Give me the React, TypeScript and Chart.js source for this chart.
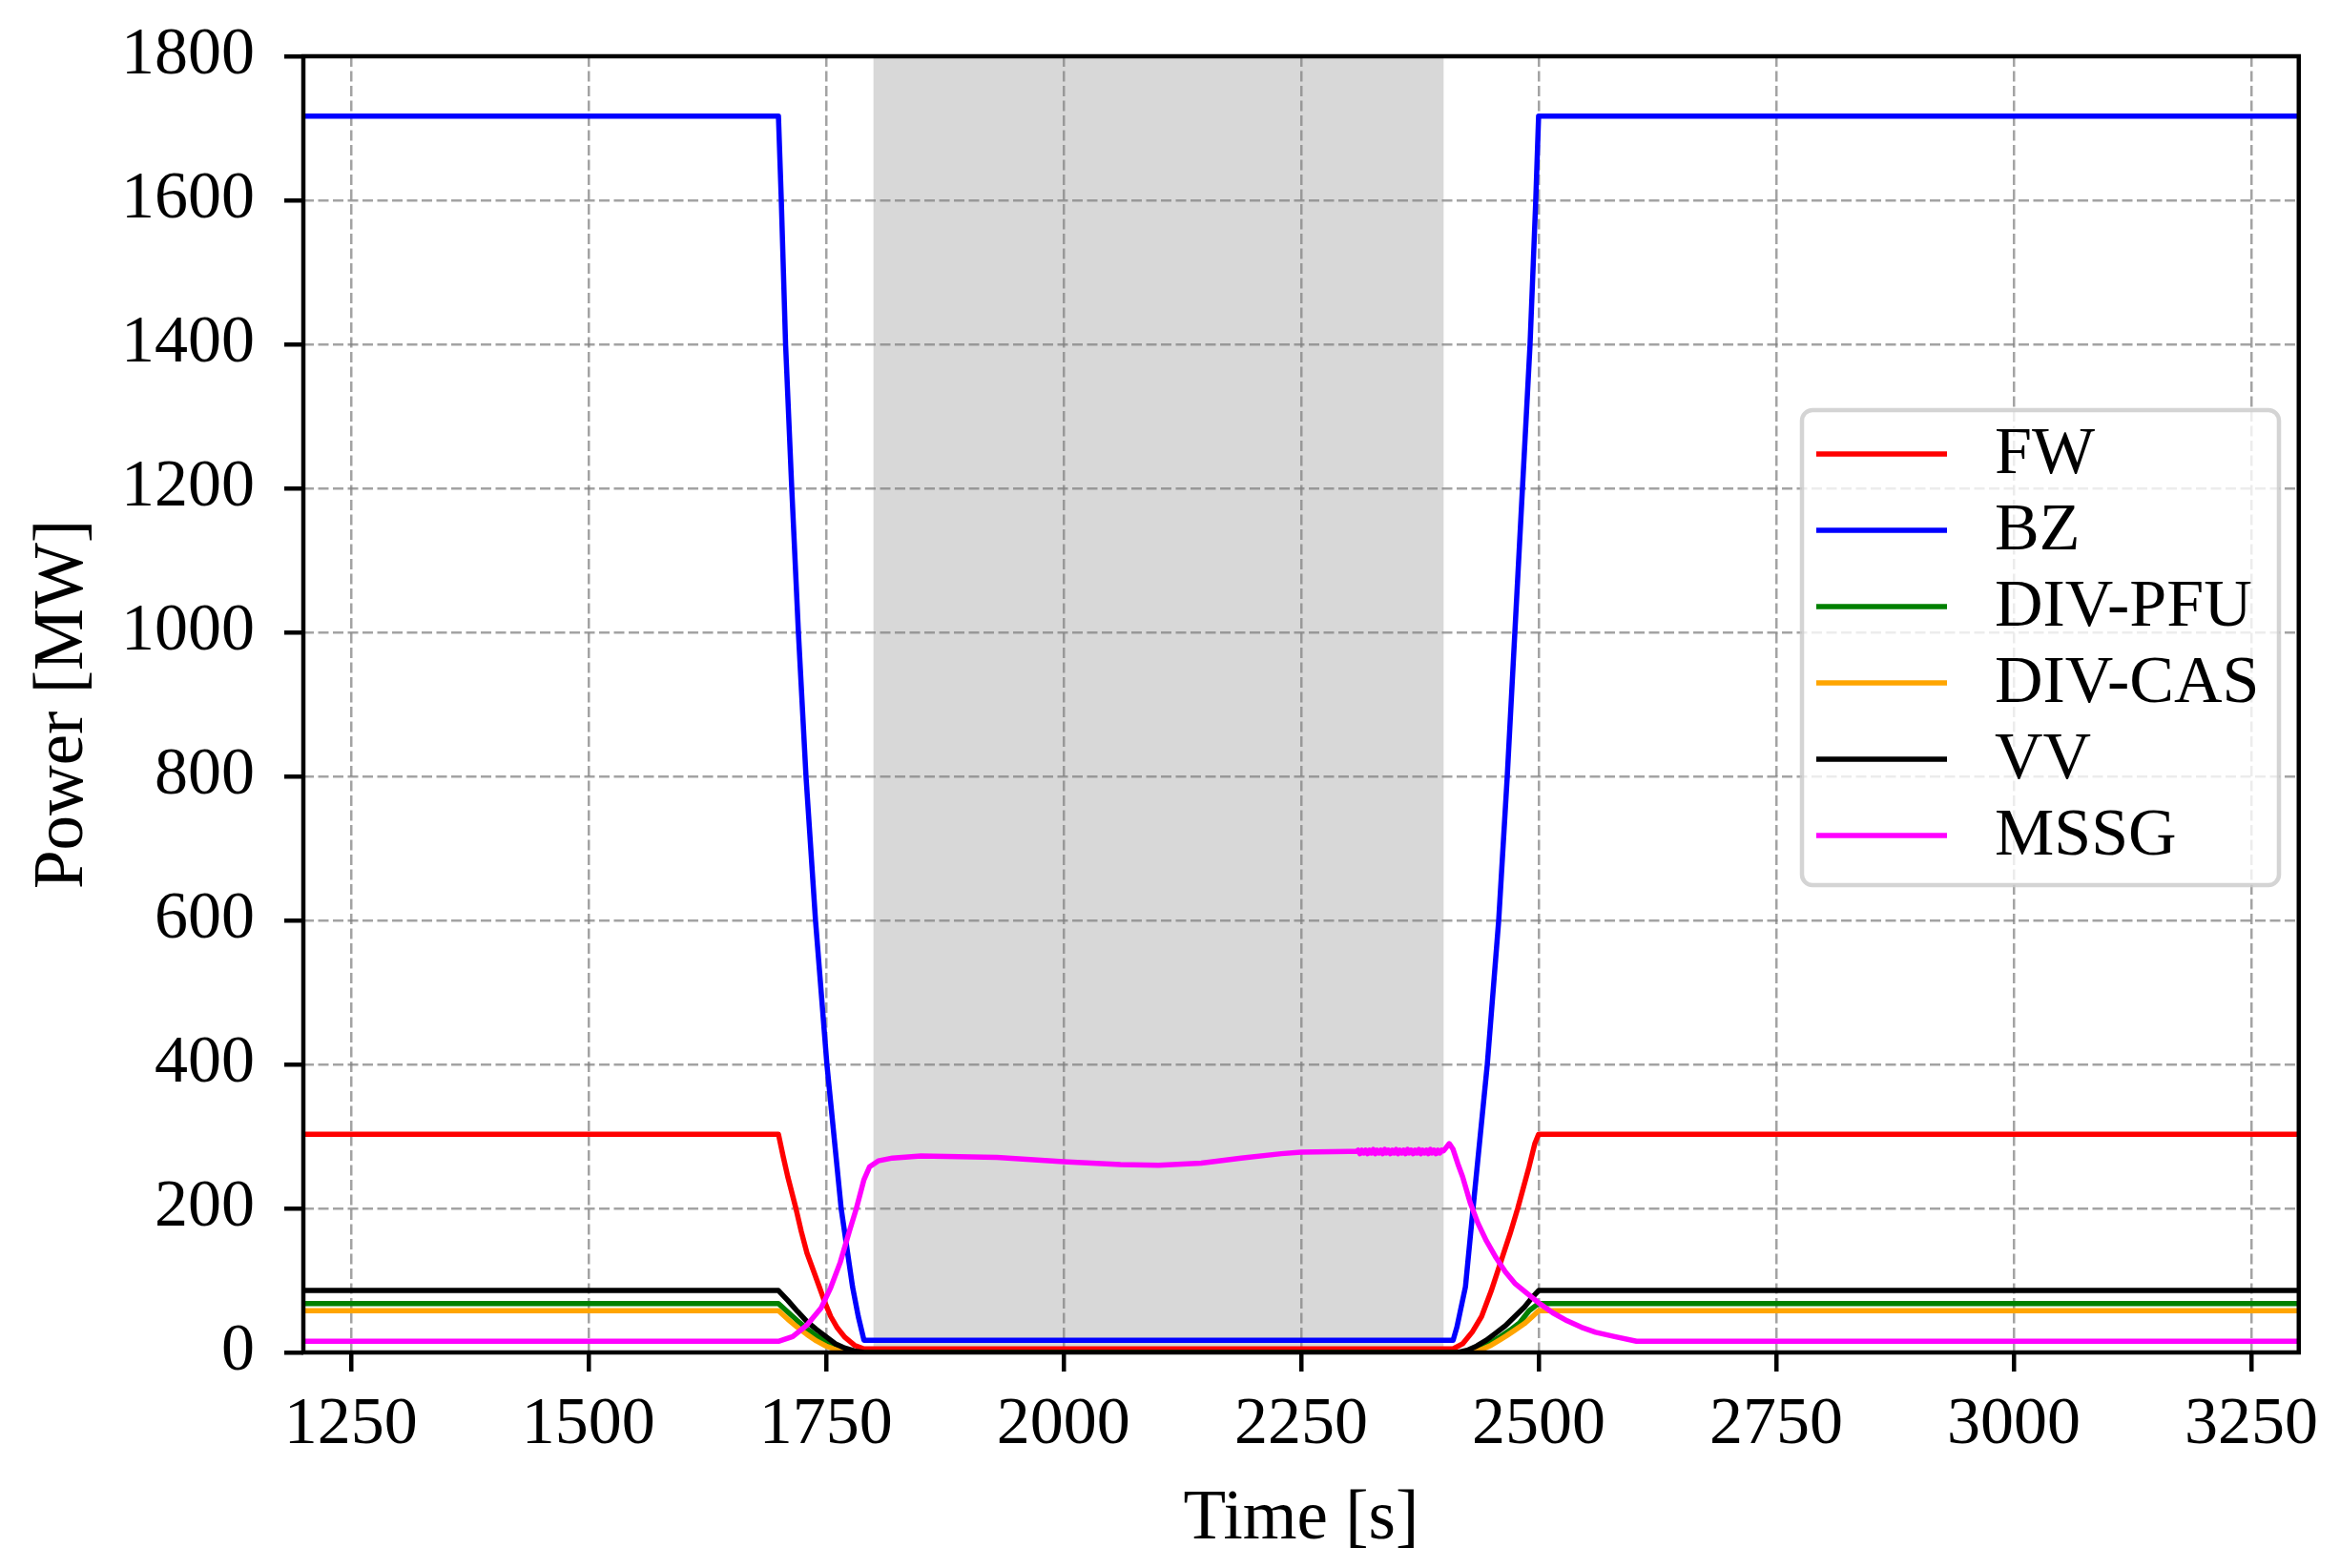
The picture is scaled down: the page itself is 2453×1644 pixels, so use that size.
import React, { useEffect, useRef } from "react";
import { Chart, registerables } from "chart.js";

Chart.register(...registerables);

// ---- axis / tick data ----
const X_MIN = 1200;
const X_MAX = 3300;
const Y_MIN = 0;
const Y_MAX = 1800;
const X_TICKS = [1250, 1500, 1750, 2000, 2250, 2500, 2750, 3000, 3250];
const Y_TICKS = [0, 200, 400, 600, 800, 1000, 1200, 1400, 1600, 1800];
const SHADE_START = 1800;
const SHADE_END = 2400;

const SERIES_NAMES = ["FW", "BZ", "DIV-PFU", "DIV-CAS", "VV", "MSSG"];
const SERIES_COLORS = ["#ff0000", "#0000ff", "#008000", "#ffa500", "#000000", "#ff00ff"];

// ---- series (time [s], power [MW]) ----
const FW_T = [1200, 1700, 1705, 1710, 1718, 1724, 1730, 1737, 1743, 1749, 1755, 1762, 1770, 1780, 1790, 2410, 2420, 2430, 2440, 2450, 2460, 2470, 2478, 2490, 2496, 2500, 3300];
const FW_P = [303, 303, 272, 243, 202, 168, 138, 113, 91, 69, 50, 34, 21, 10, 5, 5, 12, 28, 50, 85, 125, 165, 200, 258, 290, 303, 303];

const BZ_T = [1200, 1700, 1703, 1707.5, 1714, 1721, 1729, 1739, 1751, 1766, 1778, 1784, 1790, 2410, 2414, 2418, 2423, 2431, 2446, 2458, 2467, 2475, 2483, 2491, 2497, 2500, 3300];
const BZ_P = [1717, 1717, 1600, 1400, 1200, 1000, 800, 600, 400, 200, 91, 50, 17, 17, 35, 60, 91, 200, 400, 600, 800, 1000, 1200, 1400, 1600, 1717, 1717];

const PFU_T = [1200, 1700, 1710, 1720, 1730, 1740, 1750, 1760, 1770, 1780, 1788, 2420, 2430, 2440, 2450, 2460, 2470, 2480, 2490, 2500, 3300];
const PFU_P = [68, 68, 56, 44, 33, 23, 15, 8, 4, 1, 0, 0, 3, 7, 14, 22, 31, 41, 58, 68, 68];

const CAS_T = [1200, 1700, 1710, 1720, 1730, 1740, 1750, 1760, 1770, 1778, 2430, 2440, 2450, 2460, 2466, 2475, 2485, 2492, 2500, 3300];
const CAS_P = [58, 58, 46, 35, 25, 16, 9, 4, 1, 0, 0, 4, 10, 18, 23, 31, 40, 48, 58, 58];

const VV_T = [1200, 1700, 1710, 1720, 1730, 1740, 1750, 1760, 1770, 1780, 1790, 2415, 2425, 2435, 2445, 2455, 2465, 2475, 2485, 2493, 2500, 3300];
const VV_P = [86, 86, 72, 57, 43, 32, 22, 12, 6, 2, 0, 0, 3, 9, 17, 27, 37, 50, 63, 76, 86, 86];

const MSSG_T = [1200, 1700, 1715, 1730, 1745, 1755, 1765, 1775, 1782, 1790, 1796, 1805, 1820, 1850, 1930, 2000, 2060, 2100, 2145, 2187, 2229, 2250, 2300,
  2308, 2310, 2312, 2314, 2316, 2318, 2320, 2322, 2324, 2326, 2328, 2330, 2332, 2334, 2336, 2338, 2340, 2342, 2344, 2346, 2348, 2350,
  2352, 2354, 2356, 2358, 2360, 2362, 2364, 2366, 2368, 2370, 2372, 2374, 2376, 2378, 2380, 2382, 2384, 2386, 2388, 2390, 2392, 2394, 2396, 2398, 2400,
  2406, 2410, 2415, 2420, 2428, 2436, 2445, 2455, 2465, 2475, 2487, 2500, 2515, 2530, 2545, 2560, 2580, 2603, 3300];
const MSSG_P = [15.5, 15.5, 22, 38, 62, 90, 125, 170, 200, 240, 258, 266, 270, 273, 271, 265, 261, 260, 263, 270, 276, 278, 279,
  279, 281, 276, 281, 277, 281, 276, 281, 277, 282, 276, 281, 277, 281, 276, 282, 277, 281, 276, 281, 277, 282,
  276, 281, 277, 281, 276, 282, 277, 281, 276, 281, 277, 282, 276, 281, 277, 281, 276, 282, 277, 281, 276, 281, 277, 281, 280,
  290, 282, 262, 244, 208, 180, 155, 132, 112, 96, 83, 69, 55, 44, 35, 28, 22, 15.5, 15.5];

const SERIES_T = [FW_T, BZ_T, PFU_T, CAS_T, VV_T, MSSG_T];
const SERIES_P = [FW_P, BZ_P, PFU_P, CAS_P, VV_P, MSSG_P];

const FONT = "'Liberation Serif', 'DejaVu Serif', serif";

export default function App() {
  const ref = useRef<HTMLCanvasElement>(null);

  useEffect(() => {
    const canvas = ref.current;
    if (!canvas) return;

    const datasets = SERIES_NAMES.map((name, i) => ({
      label: name,
      data: SERIES_T[i].map((t, k) => ({ x: t, y: SERIES_P[i][k] })),
      borderColor: SERIES_COLORS[i],
      backgroundColor: SERIES_COLORS[i],
      borderWidth: 5.5,
      pointRadius: 0,
      pointHoverRadius: 0,
      tension: 0,
      fill: false,
      borderJoinStyle: "round" as const,
      order: SERIES_NAMES.length - 1 - i,
    }));

    const shadePlugin = {
      id: "shade",
      beforeDraw(chart: any) {
        const { ctx, chartArea, scales } = chart;
        const x0 = scales.x.getPixelForValue(SHADE_START);
        const x1 = scales.x.getPixelForValue(SHADE_END);
        ctx.save();
        ctx.fillStyle = "#d8d8d8";
        ctx.fillRect(x0, chartArea.top, x1 - x0, chartArea.bottom - chartArea.top);
        ctx.restore();
      },
    };

    const framePlugin = {
      id: "frame",
      afterDatasetsDraw(chart: any) {
        const { ctx, chartArea } = chart;
        ctx.save();
        ctx.strokeStyle = "#000";
        ctx.lineWidth = 4.5;
        ctx.strokeRect(chartArea.left, chartArea.top, chartArea.right - chartArea.left, chartArea.bottom - chartArea.top);
        ctx.restore();
      },
    };

    const legendPlugin = {
      id: "boxLegend",
      afterDraw(chart: any) {
        const { ctx } = chart;
        const bx = 1889, by = 430, bw = 500, bh = 498, r = 11;
        ctx.save();
        ctx.beginPath();
        ctx.moveTo(bx + r, by);
        ctx.lineTo(bx + bw - r, by);
        ctx.arcTo(bx + bw, by, bx + bw, by + r, r);
        ctx.lineTo(bx + bw, by + bh - r);
        ctx.arcTo(bx + bw, by + bh, bx + bw - r, by + bh, r);
        ctx.lineTo(bx + r, by + bh);
        ctx.arcTo(bx, by + bh, bx, by + bh - r, r);
        ctx.lineTo(bx, by + r);
        ctx.arcTo(bx, by, bx + r, by, r);
        ctx.closePath();
        ctx.fillStyle = "rgba(255,255,255,0.8)";
        ctx.fill();
        ctx.lineWidth = 4.5;
        ctx.strokeStyle = "rgba(204,204,204,0.85)";
        ctx.stroke();

        const rowY0 = 476, rowStep = 80;
        chart.data.datasets.forEach((ds: any, i: number) => {
          const y = rowY0 + i * rowStep;
          ctx.beginPath();
          ctx.strokeStyle = ds.borderColor;
          ctx.lineWidth = 5.5;
          ctx.moveTo(1904, y);
          ctx.lineTo(2041, y);
          ctx.stroke();
          ctx.fillStyle = "#000";
          ctx.font = `70px ${FONT}`;
          ctx.textAlign = "left";
          ctx.textBaseline = "middle";
          ctx.fillText(ds.label, 2091, y + 2);
        });
        ctx.restore();
      },
    };

    const gridCommon = {
      color: "rgba(128,128,128,0.72)",
      lineWidth: 2.5,
      drawTicks: true,
      tickLength: 20,
      tickColor: "#000",
      tickWidth: 4.5,
      tickBorderDash: [],
    };
    const borderCommon = { display: false, dash: [11, 4.5], dashOffset: 0 };

    const chart = new Chart(canvas, {
      type: "line",
      data: { datasets: datasets as any },
      options: {
        responsive: false,
        animation: false,
        devicePixelRatio: 1,
        parsing: false as any,
        normalized: true,
        layout: { padding: { top: 59, right: 43, left: 0, bottom: 0 } },
        plugins: {
          legend: { display: false },
          tooltip: { enabled: false },
        },
        scales: {
          x: {
            type: "linear",
            min: X_MIN,
            max: X_MAX,
            afterBuildTicks: (s: any) => {
              s.ticks = X_TICKS.map((v) => ({ value: v }));
            },
            afterFit: (s: any) => {
              s.height = 226;
            },
            grid: gridCommon as any,
            border: borderCommon as any,
            ticks: {
              font: { family: FONT, size: 70, lineHeight: 1 },
              color: "#000",
              padding: 22,
              maxRotation: 0,
              minRotation: 0,
              autoSkip: false,
              callback: (v: any) => String(v),
            },
            title: {
              display: true,
              text: "Time [s]",
              color: "#000",
              font: { family: FONT, size: 73, lineHeight: 1 },
              padding: { top: 0, bottom: 14 },
            },
          },
          y: {
            type: "linear",
            min: Y_MIN,
            max: Y_MAX,
            afterBuildTicks: (s: any) => {
              s.ticks = Y_TICKS.map((v) => ({ value: v }));
            },
            afterFit: (s: any) => {
              s.width = 318;
            },
            grid: gridCommon as any,
            border: borderCommon as any,
            ticks: {
              font: { family: FONT, size: 70, lineHeight: 0.8 },
              color: "#000",
              padding: 31,
              autoSkip: false,
              callback: (v: any) => String(v),
            },
            title: {
              display: true,
              text: "Power [MW]",
              color: "#000",
              font: { family: FONT, size: 73, lineHeight: 1 },
              padding: { top: 30, bottom: 0 },
            },
          },
        },
      },
      plugins: [shadePlugin, framePlugin, legendPlugin],
    });

    return () => {
      chart.destroy();
    };
  }, []);

  return (
    <div style={{ position: "absolute", left: 0, top: 0, width: 2453, height: 1644, background: "#fff" }}>
      <canvas ref={ref} width={2453} height={1644} style={{ width: 2453, height: 1644, display: "block" }} />
    </div>
  );
}
